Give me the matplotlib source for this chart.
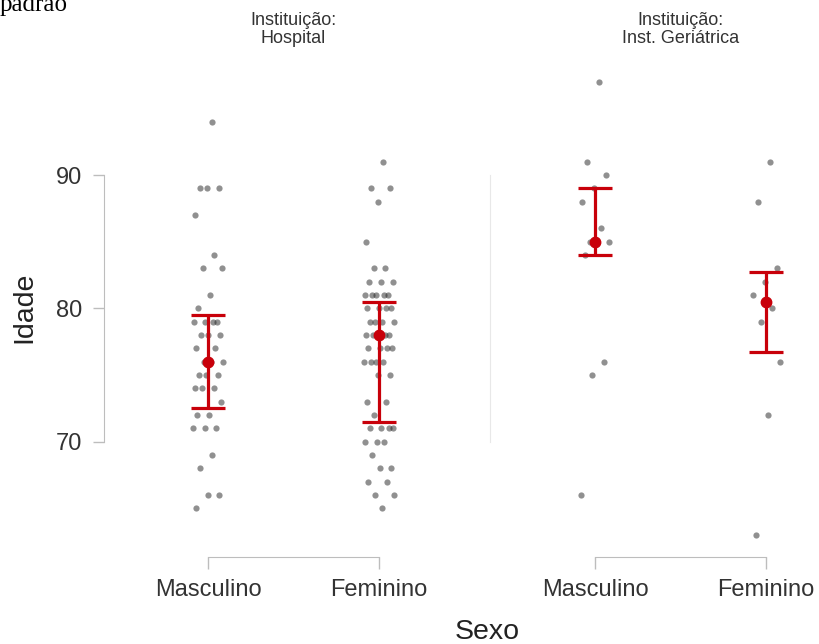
import numpy as np
import matplotlib
matplotlib.use("Agg")
import matplotlib.pyplot as plt
from matplotlib.transforms import blended_transform_factory

# Ages by sex, one list per institution
categories = ["Masculino", "Feminino"]
institutions = ["Hospital", "Inst. Geriátrica"]

hosp_masc = [94, 89, 89, 89, 87, 84, 83, 83, 81, 80, 79, 79, 79, 79,
             78, 78, 78, 77, 77, 76, 76, 76, 75, 75, 75, 74, 74, 74,
             73, 72, 72, 71, 71, 71, 69, 68, 66, 66, 65]
hosp_fem = [91, 89, 89, 88, 85, 83, 83, 82, 82, 82, 81, 81, 81, 81, 81,
            80, 80, 80, 80, 79, 79, 79, 79, 78, 78, 78, 78, 78,
            77, 77, 77, 77, 76, 76, 76, 76, 75, 75, 73, 73, 72,
            71, 71, 71, 71, 70, 70, 70, 69, 68, 68, 67, 67, 66, 66, 65]
ger_masc = [97, 91, 90, 89, 88, 86, 85, 85, 85, 84, 76, 75, 66]
ger_fem = [91, 88, 83, 82, 81, 80, 79, 76, 72, 63]

# Median and interquartile range per group (Masculino, Feminino)
hosp_median = [76, 78]
hosp_q1 = [72.5, 71.5]
hosp_q3 = [79.5, 80.5]
ger_median = [85, 80.5]
ger_q1 = [84, 76.75]
ger_q3 = [89, 82.75]

RED = "#C8000A"
AXIS_GREY = "#BDBDBD"
TEXT_GREY = "#333333"

W, H = 819, 644
plt.rcParams["font.family"] = ["Liberation Sans", "DejaVu Sans"]
fig = plt.figure(figsize=(W / 100, H / 100), dpi=100)


def px_axes(x0, x1, y0, y1):
    return fig.add_axes([x0 / W, 1 - y1 / H, (x1 - x0) / W, (y1 - y0) / H])


ax_h = px_axes(104, 474, 60, 545)
ax_g = px_axes(490, 819, 60, 545)

ax_h.set_xlim(-0.608, 1.556)
ax_g.set_xlim(-0.614, 1.310)
for ax in (ax_h, ax_g):
    ax.set_ylim(62.25, 98.63)
    ax.set_facecolor("none")


def jitter(n, width=0.18):
    # deterministic golden-ratio spread around the category centre
    k = np.arange(1, n + 1)
    return ((k * 0.6180339887) % 1.0 - 0.5) * width


def draw_panel(ax, groups, med, lo, hi):
    for i, vals in enumerate(groups):
        vals = np.asarray(vals, dtype=float)
        ax.scatter(i + jitter(len(vals)), vals, s=20, color="#222222",
                   alpha=0.5, linewidths=0, zorder=2)
    xs = np.arange(len(groups))
    ax.errorbar(xs, med, yerr=[np.subtract(med, lo), np.subtract(hi, med)],
                fmt="none", ecolor=RED, elinewidth=2.3, capsize=0, zorder=3)
    ax.hlines(lo, xs - 0.1, xs + 0.1, color=RED, lw=2.3, zorder=3)
    ax.hlines(hi, xs - 0.1, xs + 0.1, color=RED, lw=2.3, zorder=3)
    ax.plot(xs, med, "o", color=RED, ms=7.5, zorder=4)

    for side in ("top", "right"):
        ax.spines[side].set_visible(False)
    ax.spines["bottom"].set_position(("outward", 8.6))
    ax.spines["bottom"].set_bounds(0, len(groups) - 1)
    ax.spines["bottom"].set_color(AXIS_GREY)
    ax.tick_params(axis="x", length=8.6, width=1, color=AXIS_GREY, pad=7,
                   labelsize=17, labelcolor=TEXT_GREY)
    ax.set_xticks(xs)
    ax.set_xticklabels(categories)


draw_panel(ax_h, [hosp_masc, hosp_fem], hosp_median, hosp_q1, hosp_q3)
draw_panel(ax_g, [ger_masc, ger_fem], ger_median, ger_q1, ger_q3)

# y axis: ticks on the left panel only
ax_h.spines["left"].set_bounds(70, 90)
ax_h.spines["left"].set_color(AXIS_GREY)
ax_h.tick_params(axis="y", length=8, width=1, color=AXIS_GREY, pad=8,
                 labelsize=17, labelcolor=TEXT_GREY)
ax_h.set_yticks([70, 80, 90])
ax_h.set_yticklabels(["70", "80", "90"])

ax_g.set_yticks([])
ax_g.spines["left"].set_bounds(70, 90)
ax_g.spines["left"].set_color("#E8E8E8")

# panel strips
for ax, name in zip((ax_h, ax_g), institutions):
    tr = blended_transform_factory(ax.transData, fig.transFigure)
    ax.text(0.5, 1 - 12 / H, "Instituição:\n" + name, transform=tr,
            ha="center", va="top", fontsize=13, color=TEXT_GREY,
            linespacing=1.1)

fig.text(24 / W, 1 - 307 / H, "Idade", rotation=90, ha="center",
         va="center", fontsize=20.5, color="#222222")
fig.text(487 / W, 5 / H, "Sexo", ha="center", va="baseline",
         fontsize=20.5, color="#222222")

fig.text(0.0, 1 - 11 / H, "padrão", ha="left", va="baseline",
         fontsize=18, family=["Liberation Serif", "DejaVu Serif"],
         color="black")

fig.savefig("out.png", dpi=100)
